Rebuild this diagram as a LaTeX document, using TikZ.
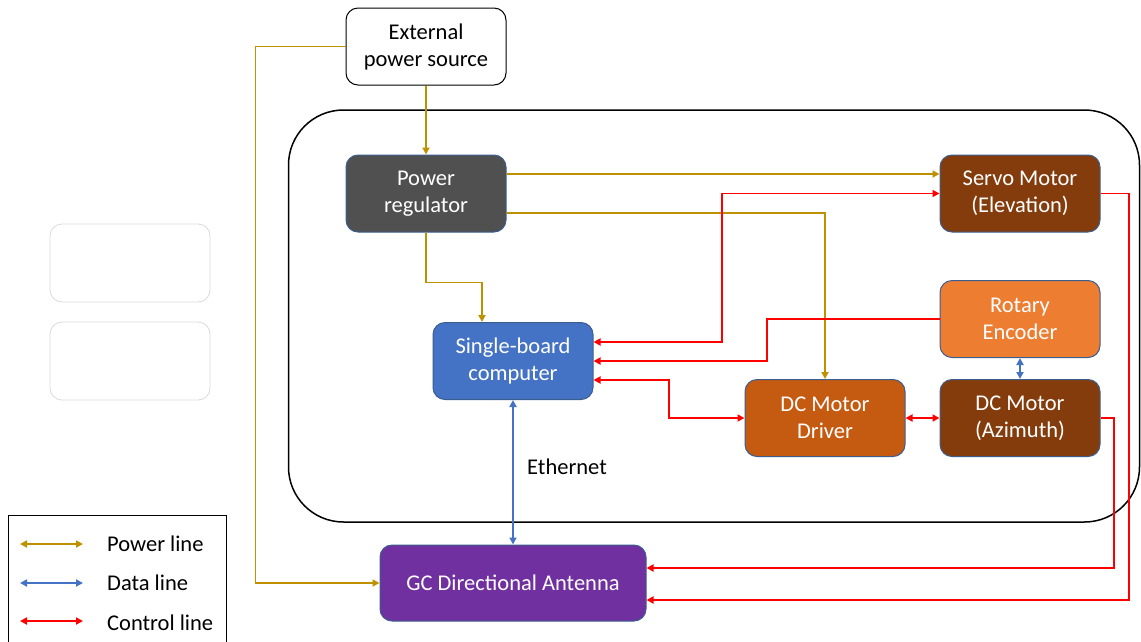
\documentclass[tikz,border=0pt]{standalone}
\usepackage{fontspec}
\setmainfont{Carlito}
\usetikzlibrary{arrows.meta}
\definecolor{pwr}{HTML}{BF9000}
\definecolor{dat}{HTML}{4472C4}
\definecolor{ctl}{HTML}{FF0000}
\definecolor{edge}{HTML}{3B5E8F}
\definecolor{cReg}{HTML}{505050}
\definecolor{cBrown}{HTML}{843C0C}
\definecolor{cOrange}{HTML}{ED7D31}
\definecolor{cDrv}{HTML}{C55A11}
\definecolor{cSbc}{HTML}{4472C4}
\definecolor{cAnt}{HTML}{7030A0}
\begin{document}
\begin{tikzpicture}[x=1pt,y=-1pt,
  font=\fontsize{22.5}{27}\selectfont,
  blk/.style={draw=edge,line width=1pt,rounded corners=12pt,minimum width=160pt,minimum height=77pt,inner sep=0pt,align=center,text=white},
  pw/.style={draw=pwr,line width=1.8pt,-{Triangle[length=7pt,width=7pt]}},
  dt/.style={draw=dat,line width=1.8pt,{Triangle[length=7pt,width=7pt]}-{Triangle[length=7pt,width=7pt]}},
  ct/.style={draw=ctl,line width=1.8pt,-{Triangle[length=7pt,width=7pt]}},
  ctb/.style={draw=ctl,line width=1.8pt,{Triangle[length=7pt,width=7pt]}-{Triangle[length=7pt,width=7pt]}},
  ghost/.style={draw=black!15,line width=0.8pt,rounded corners=12pt,minimum width=160pt,minimum height=78pt}
]
\useasboundingbox (0,0) rectangle (1141,641);
% container
\node[draw=black,line width=1.5pt,rounded corners=55pt,minimum width=851pt,minimum height=412pt,inner sep=0pt] (box) at (714,316) {};
% ghost boxes
\node[ghost] (g1) at (130,263) {};
\node[ghost] (g2) at (130,361) {};
% blocks
\node[blk,fill=white,draw=black,text=black] (ext) at (426,46.5) {External\\power source};
\node[blk,fill=cReg] (reg) at (426,193.5) {Power\\regulator};
\node[blk,fill=cBrown] (servo) at (1020,193.5) {Servo Motor\\(Elevation)};
\node[blk,fill=cOrange] (enc) at (1020,319) {Rotary\\Encoder};
\node[blk,fill=cBrown] (dcm) at (1020,418) {DC Motor\\(Azimuth)};
\node[blk,fill=cDrv] (drv) at (825,418) {DC Motor\\Driver};
\node[blk,fill=cSbc] (sbc) at (513,361) {Single-board\\computer};
\node[blk,fill=cAnt,minimum width=266pt,minimum height=76pt] (ant) at (513,583) {GC Directional Antenna};
% power lines
\draw[pw] (ext.west) -- ++(-90,0) |- (ant.west);
\draw[pw] (ext.south) -- (reg.north);
\draw[pw] ([yshift=19.5pt]reg.east) -- ([yshift=19.5pt]servo.west);
\draw[pw] ([yshift=-19.5pt]reg.east) -| (drv.north);
\draw[pw] (reg.south) -- ++(0,50) -| ([xshift=-31pt]sbc.north);
% control lines
\draw[ctb] (servo.west) -- (722,193.5) |- ([yshift=19pt]sbc.east);
\draw[ct] (enc.west) -- (767,319) |- (sbc.east);
\draw[ctb] ([yshift=-19pt]sbc.east) -- (669,380) |- (drv.west);
\draw[ctb] (drv.east) -- (dcm.west);
\draw[ct] (dcm.east) -- (1114,418) |- ([yshift=15pt]ant.east);
\draw[ct] (servo.east) -- (1129,193.5) |- ([yshift=-17pt]ant.east);
% data lines
\draw[dt] (enc.south) -- (dcm.north);
\draw[dt] (sbc.south) -- node[right=10pt,pos=0.46] (eth) {Ethernet} (ant.north);
% legend
\draw[black,line width=1pt] (8,515) rectangle (226,650);
\coordinate (l1a) at (20,544); \coordinate (l1b) at (83,544);
\coordinate (l2a) at (20,583); \coordinate (l2b) at (83,583);
\coordinate (l3a) at (20,621); \coordinate (l3b) at (83,621);
\draw[pw,{Triangle[length=7pt,width=7pt]}-{Triangle[length=7pt,width=7pt]}] (l1a) -- (l1b);
\draw[dt] (l2a) -- (l2b);
\draw[ctb] (l3a) -- (l3b);
\node[anchor=west,inner sep=0pt] (t1) at (107,544) {Power line};
\node[anchor=west,inner sep=0pt] (t2) at (107,583) {Data line};
\node[anchor=west,inner sep=0pt] (t3) at (107,623) {Control line};
\end{tikzpicture}
\end{document}
